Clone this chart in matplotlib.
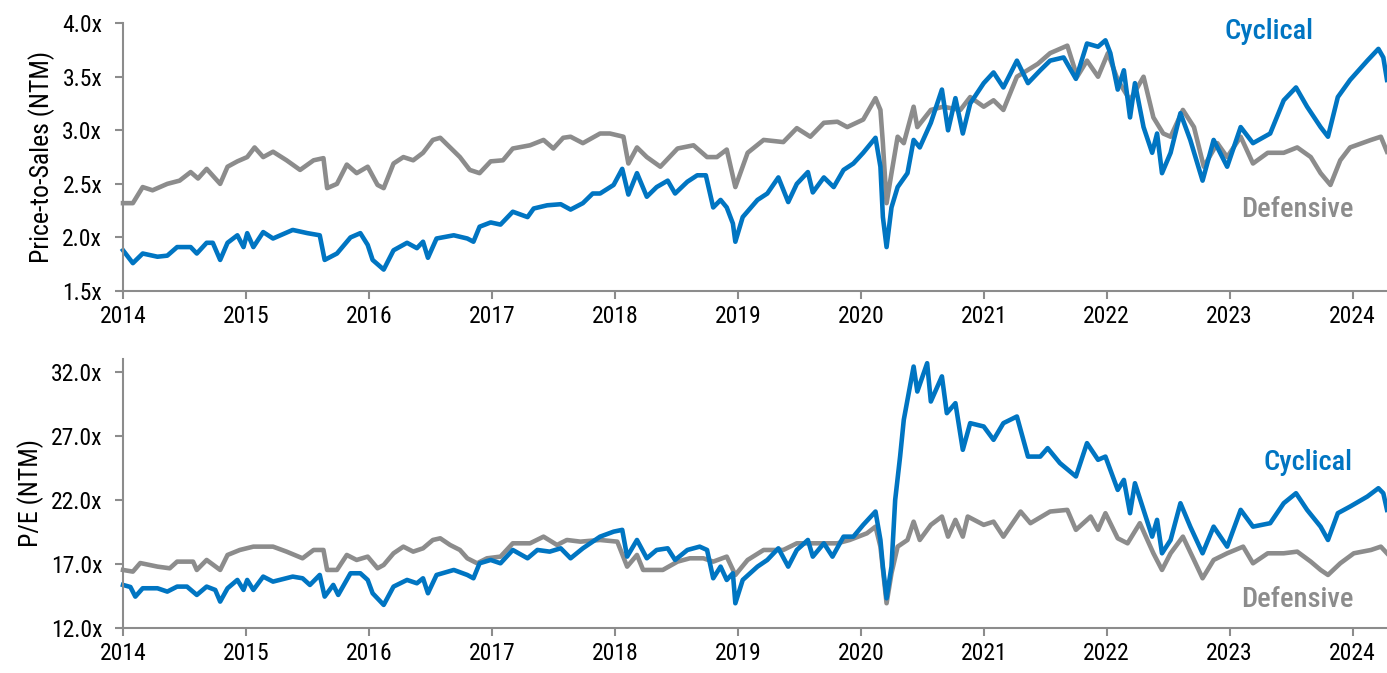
import matplotlib.pyplot as plt
from matplotlib.ticker import FuncFormatter

# --- Price-to-Sales (NTM), decimal year vs multiple ---
ps_def_t = [2014.00, 2014.08, 2014.16, 2014.24, 2014.36, 2014.46, 2014.55, 2014.61, 2014.68, 2014.79,
            2014.85, 2014.93, 2015.01, 2015.07, 2015.14, 2015.22, 2015.33, 2015.44, 2015.55, 2015.63,
            2015.66, 2015.74, 2015.82, 2015.90, 2015.99, 2016.07, 2016.12, 2016.20, 2016.28, 2016.36,
            2016.44, 2016.52, 2016.58, 2016.66, 2016.74, 2016.82, 2016.90, 2016.99, 2017.09, 2017.17,
            2017.31, 2017.42, 2017.50, 2017.58, 2017.64, 2017.74, 2017.88, 2017.96, 2018.07, 2018.11,
            2018.18, 2018.26, 2018.37, 2018.51, 2018.64, 2018.75, 2018.83, 2018.91, 2018.98, 2019.08,
            2019.21, 2019.37, 2019.48, 2019.59, 2019.70, 2019.81, 2019.89, 2020.02, 2020.12, 2020.16,
            2020.18, 2020.21, 2020.25, 2020.30, 2020.35, 2020.43, 2020.46, 2020.57, 2020.67, 2020.81,
            2020.89, 2021.00, 2021.08, 2021.16, 2021.27, 2021.44, 2021.54, 2021.68, 2021.76, 2021.84,
            2021.93, 2022.01, 2022.09, 2022.19, 2022.30, 2022.38, 2022.46, 2022.52, 2022.62, 2022.71,
            2022.79, 2022.90, 2022.98, 2023.09, 2023.19, 2023.31, 2023.44, 2023.55, 2023.66, 2023.74,
            2023.82, 2023.90, 2023.98, 2024.15, 2024.23, 2024.28]
ps_def = [2.32, 2.32, 2.47, 2.44, 2.50, 2.53, 2.61, 2.55, 2.64, 2.50,
          2.66, 2.71, 2.75, 2.84, 2.75, 2.80, 2.72, 2.63, 2.72, 2.74,
          2.46, 2.50, 2.68, 2.60, 2.66, 2.49, 2.46, 2.69, 2.75, 2.72,
          2.79, 2.91, 2.93, 2.84, 2.75, 2.63, 2.60, 2.71, 2.72, 2.83,
          2.86, 2.91, 2.83, 2.93, 2.94, 2.88, 2.97, 2.97, 2.94, 2.69,
          2.84, 2.75, 2.66, 2.83, 2.86, 2.75, 2.75, 2.82, 2.47, 2.79,
          2.91, 2.89, 3.02, 2.94, 3.07, 3.08, 3.03, 3.10, 3.30, 3.19,
          2.88, 2.32, 2.60, 2.94, 2.88, 3.22, 3.03, 3.19, 3.22, 3.19,
          3.31, 3.22, 3.28, 3.19, 3.50, 3.62, 3.72, 3.79, 3.50, 3.65,
          3.50, 3.72, 3.47, 3.28, 3.50, 3.12, 2.97, 2.94, 3.19, 3.03,
          2.66, 2.88, 2.75, 2.94, 2.69, 2.79, 2.79, 2.84, 2.75, 2.60,
          2.49, 2.72, 2.84, 2.91, 2.94, 2.80]

ps_cyc_t = [2014.00, 2014.08, 2014.16, 2014.28, 2014.36, 2014.44, 2014.55, 2014.60, 2014.68, 2014.73,
            2014.79, 2014.85, 2014.93, 2014.98, 2015.01, 2015.06, 2015.14, 2015.22, 2015.38, 2015.50,
            2015.60, 2015.64, 2015.74, 2015.85, 2015.93, 2015.99, 2016.03, 2016.12, 2016.20, 2016.31,
            2016.39, 2016.44, 2016.48, 2016.55, 2016.69, 2016.80, 2016.85, 2016.90, 2016.99, 2017.07,
            2017.17, 2017.29, 2017.34, 2017.45, 2017.56, 2017.64, 2017.74, 2017.82, 2017.88, 2017.99,
            2018.06, 2018.11, 2018.18, 2018.26, 2018.34, 2018.43, 2018.49, 2018.59, 2018.67, 2018.74,
            2018.80, 2018.86, 2018.91, 2018.96, 2018.98, 2019.04, 2019.16, 2019.24, 2019.33, 2019.41,
            2019.48, 2019.57, 2019.61, 2019.70, 2019.78, 2019.86, 2019.94, 2020.02, 2020.12, 2020.16,
            2020.18, 2020.21, 2020.25, 2020.30, 2020.38, 2020.43, 2020.48, 2020.57, 2020.66, 2020.71,
            2020.77, 2020.83, 2020.89, 2021.00, 2021.08, 2021.16, 2021.27, 2021.36, 2021.46, 2021.54,
            2021.65, 2021.75, 2021.84, 2021.93, 2021.99, 2022.03, 2022.09, 2022.14, 2022.19, 2022.23,
            2022.30, 2022.37, 2022.41, 2022.45, 2022.52, 2022.60, 2022.68, 2022.78, 2022.87, 2022.98,
            2023.09, 2023.19, 2023.33, 2023.44, 2023.54, 2023.63, 2023.74, 2023.80, 2023.88, 2023.98,
            2024.12, 2024.21, 2024.25, 2024.28]
ps_cyc = [1.88, 1.76, 1.85, 1.82, 1.83, 1.91, 1.91, 1.85, 1.95, 1.95,
          1.79, 1.95, 2.02, 1.91, 2.04, 1.91, 2.05, 1.99, 2.07, 2.04,
          2.02, 1.79, 1.85, 2.00, 2.04, 1.93, 1.79, 1.70, 1.88, 1.95,
          1.90, 1.96, 1.81, 1.99, 2.02, 1.99, 1.96, 2.10, 2.14, 2.12,
          2.24, 2.19, 2.27, 2.30, 2.31, 2.26, 2.32, 2.41, 2.41, 2.49,
          2.64, 2.40, 2.60, 2.38, 2.47, 2.53, 2.41, 2.52, 2.58, 2.58,
          2.28, 2.35, 2.28, 2.13, 1.96, 2.19, 2.35, 2.41, 2.56, 2.33,
          2.50, 2.61, 2.42, 2.56, 2.47, 2.63, 2.69, 2.79, 2.93, 2.66,
          2.19, 1.91, 2.28, 2.47, 2.60, 2.91, 2.84, 3.07, 3.38, 3.00,
          3.30, 2.97, 3.25, 3.44, 3.54, 3.40, 3.65, 3.44, 3.56, 3.65,
          3.68, 3.48, 3.81, 3.78, 3.84, 3.72, 3.38, 3.56, 3.12, 3.44,
          3.03, 2.79, 2.97, 2.60, 2.79, 3.16, 2.91, 2.53, 2.91, 2.66,
          3.03, 2.88, 2.97, 3.28, 3.40, 3.22, 3.03, 2.94, 3.31, 3.47,
          3.65, 3.76, 3.68, 3.47]

# --- P/E (NTM) ---
pe_def_t = [2014.00, 2014.08, 2014.14, 2014.28, 2014.38, 2014.44, 2014.57, 2014.60, 2014.68, 2014.79,
            2014.85, 2014.95, 2015.06, 2015.22, 2015.33, 2015.46, 2015.55, 2015.63, 2015.66, 2015.74,
            2015.82, 2015.90, 2015.99, 2016.07, 2016.12, 2016.20, 2016.28, 2016.36, 2016.44, 2016.52,
            2016.58, 2016.66, 2016.74, 2016.80, 2016.88, 2016.96, 2017.07, 2017.17, 2017.31, 2017.42,
            2017.53, 2017.61, 2017.72, 2017.88, 2018.02, 2018.10, 2018.18, 2018.23, 2018.39, 2018.51,
            2018.61, 2018.72, 2018.80, 2018.91, 2018.98, 2019.08, 2019.21, 2019.37, 2019.48, 2019.65,
            2019.81, 2019.91, 2020.05, 2020.12, 2020.16, 2020.21, 2020.25, 2020.30, 2020.38, 2020.43,
            2020.48, 2020.57, 2020.66, 2020.71, 2020.77, 2020.83, 2020.87, 2021.00, 2021.08, 2021.16,
            2021.30, 2021.38, 2021.54, 2021.68, 2021.75, 2021.87, 2021.93, 2021.99, 2022.09, 2022.17,
            2022.27, 2022.38, 2022.45, 2022.52, 2022.62, 2022.71, 2022.78, 2022.87, 2022.98, 2023.11,
            2023.19, 2023.31, 2023.44, 2023.55, 2023.66, 2023.74, 2023.80, 2023.90, 2024.01, 2024.15,
            2024.23, 2024.28]
pe_def = [16.53, 16.40, 17.07, 16.79, 16.66, 17.18, 17.18, 16.53, 17.31, 16.53,
          17.70, 18.09, 18.35, 18.35, 17.96, 17.44, 18.09, 18.09, 16.53, 16.53,
          17.70, 17.31, 17.57, 16.66, 16.92, 17.83, 18.35, 17.96, 18.22, 18.87,
          19.00, 18.48, 18.09, 17.44, 17.05, 17.44, 17.57, 18.61, 18.61, 19.13,
          18.48, 18.87, 18.74, 18.87, 18.74, 16.79, 17.70, 16.53, 16.53, 17.18,
          17.44, 17.44, 17.18, 17.57, 16.14, 17.31, 18.09, 18.09, 18.61, 18.61,
          18.61, 18.87, 19.39, 19.91, 18.35, 13.93, 16.27, 18.35, 18.87, 20.30,
          18.87, 20.05, 20.70, 19.13, 20.44, 19.13, 20.70, 20.05, 20.30, 19.13,
          21.09, 20.18, 21.09, 21.22, 19.66, 20.70, 19.66, 20.96, 19.00, 18.61,
          20.18, 17.83, 16.53, 17.83, 19.13, 17.31, 15.88, 17.31, 17.83, 18.35,
          17.05, 17.83, 17.83, 17.96, 17.18, 16.53, 16.14, 17.05, 17.83, 18.09,
          18.35, 17.83]

pe_cyc_t = [2014.00, 2014.06, 2014.10, 2014.16, 2014.28, 2014.36, 2014.44, 2014.52, 2014.60, 2014.68,
            2014.75, 2014.79, 2014.85, 2014.93, 2014.98, 2015.01, 2015.06, 2015.14, 2015.22, 2015.38,
            2015.46, 2015.52, 2015.60, 2015.64, 2015.71, 2015.75, 2015.85, 2015.93, 2015.99, 2016.03,
            2016.12, 2016.20, 2016.31, 2016.39, 2016.44, 2016.48, 2016.55, 2016.69, 2016.80, 2016.85,
            2016.90, 2016.99, 2017.07, 2017.17, 2017.29, 2017.37, 2017.47, 2017.56, 2017.64, 2017.74,
            2017.88, 2017.99, 2018.06, 2018.10, 2018.18, 2018.26, 2018.34, 2018.43, 2018.49, 2018.59,
            2018.69, 2018.75, 2018.80, 2018.86, 2018.91, 2018.96, 2018.98, 2019.04, 2019.16, 2019.24,
            2019.33, 2019.41, 2019.48, 2019.57, 2019.61, 2019.70, 2019.77, 2019.86, 2019.94, 2020.02,
            2020.12, 2020.16, 2020.18, 2020.21, 2020.25, 2020.28, 2020.32, 2020.35, 2020.39, 2020.43,
            2020.46, 2020.54, 2020.57, 2020.66, 2020.70, 2020.77, 2020.83, 2020.89, 2021.00, 2021.08,
            2021.16, 2021.27, 2021.36, 2021.46, 2021.52, 2021.62, 2021.75, 2021.84, 2021.93, 2021.99,
            2022.03, 2022.09, 2022.14, 2022.19, 2022.23, 2022.30, 2022.37, 2022.41, 2022.45, 2022.52,
            2022.60, 2022.68, 2022.78, 2022.87, 2022.98, 2023.09, 2023.19, 2023.33, 2023.44, 2023.54,
            2023.63, 2023.74, 2023.80, 2023.88, 2023.98, 2024.12, 2024.21, 2024.25, 2024.28]
pe_cyc = [15.36, 15.20, 14.45, 15.10, 15.10, 14.84, 15.23, 15.23, 14.58, 15.23,
          14.97, 14.06, 15.10, 15.75, 14.97, 15.75, 14.97, 16.01, 15.62, 16.01,
          15.88, 15.36, 16.14, 14.45, 15.36, 14.58, 16.27, 16.27, 15.75, 14.71,
          13.80, 15.23, 15.75, 15.49, 15.88, 14.71, 16.14, 16.53, 16.14, 15.88,
          17.05, 17.31, 17.05, 18.09, 17.44, 18.09, 17.96, 18.22, 17.44, 18.22,
          19.13, 19.52, 19.66, 17.57, 18.87, 17.44, 18.09, 18.22, 17.31, 18.09,
          18.35, 18.09, 15.88, 16.79, 15.75, 16.27, 13.93, 15.75, 16.79, 17.31,
          18.22, 16.79, 18.09, 18.87, 17.57, 18.61, 17.57, 19.13, 19.13, 20.05,
          21.09, 18.87, 16.79, 14.32, 16.79, 22.00, 25.38, 28.25, 30.33, 32.41,
          30.46, 32.67, 29.68, 31.64, 28.77, 29.55, 25.91, 27.99, 27.73, 26.69,
          27.99, 28.51, 25.38, 25.38, 26.04, 24.87, 23.83, 26.43, 25.13, 25.38,
          24.34, 22.78, 23.56, 20.96, 23.30, 21.22, 19.13, 20.44, 17.83, 18.87,
          21.74, 19.91, 17.83, 19.91, 18.35, 21.22, 19.91, 20.18, 21.74, 22.52,
          21.22, 19.91, 18.87, 20.96, 21.48, 22.26, 22.91, 22.52, 21.22]

years = list(range(2014, 2025))
ps_ticks = [1.5, 2.0, 2.5, 3.0, 3.5, 4.0]
pe_ticks = [12.0, 17.0, 22.0, 27.0, 32.0]

BLUE = '#0075C2'
GREY = '#8C8C8C'
AXC = '#8C8C8C'

plt.rcParams['font.family'] = ['Roboto Condensed', 'Roboto', 'DejaVu Sans']

fig = plt.figure(figsize=(13.87, 6.73), dpi=100)
ax1 = fig.add_axes([0.0887, 0.5676, 0.9113, 0.398])
ax2 = fig.add_axes([0.0887, 0.0669, 0.9113, 0.3997])

xfmt = FuncFormatter(lambda v, p: f'{v:.1f}x')

for ax in (ax1, ax2):
    for s in ('top', 'right'):
        ax.spines[s].set_visible(False)
    for s in ('left', 'bottom'):
        ax.spines[s].set_color(AXC)
        ax.spines[s].set_linewidth(1.5)
    ax.set_xlim(2014, 2024.28)
    ax.set_xticks(years)
    ax.set_xticklabels([str(y) for y in years])
    ax.tick_params(axis='both', colors=AXC, labelcolor='black', labelsize=17,
                   length=6, width=1.5, direction='out')
    ax.tick_params(axis='y', pad=9)
    ax.tick_params(axis='x', pad=4)
    ax.yaxis.set_major_formatter(xfmt)

# top panel
ax1.plot(ps_def_t, ps_def, color=GREY, lw=3.3, clip_on=False, solid_joinstyle='round')
ax1.plot(ps_cyc_t, ps_cyc, color=BLUE, lw=3.3, clip_on=False, solid_joinstyle='round')
ax1.set_ylim(1.5, 4.0)
ax1.set_yticks(ps_ticks)
ax1.set_ylabel('Price-to-Sales (NTM)', fontsize=18.5, labelpad=5)
ax1.text(2023.32, 3.92, 'Cyclical', color=BLUE, fontsize=20.5, fontweight='medium',
         ha='center', va='center')
ax1.text(2023.55, 2.26, 'Defensive', color=GREY, fontsize=20.5, fontweight='medium',
         ha='center', va='center')

# bottom panel
ax2.plot(pe_def_t, pe_def, color=GREY, lw=3.3, clip_on=False, solid_joinstyle='round')
ax2.plot(pe_cyc_t, pe_cyc, color=BLUE, lw=3.3, clip_on=False, solid_joinstyle='round')
ax2.set_ylim(12.0, 33.0)
ax2.set_yticks(pe_ticks)
ax2.set_ylabel('P/E (NTM)', fontsize=18.5, labelpad=5)
ax2.text(2023.64, 24.9, 'Cyclical', color=BLUE, fontsize=20.5, fontweight='medium',
         ha='center', va='center')
ax2.text(2023.55, 14.2, 'Defensive', color=GREY, fontsize=20.5, fontweight='medium',
         ha='center', va='center')

fig.savefig('out.png', dpi=100)
